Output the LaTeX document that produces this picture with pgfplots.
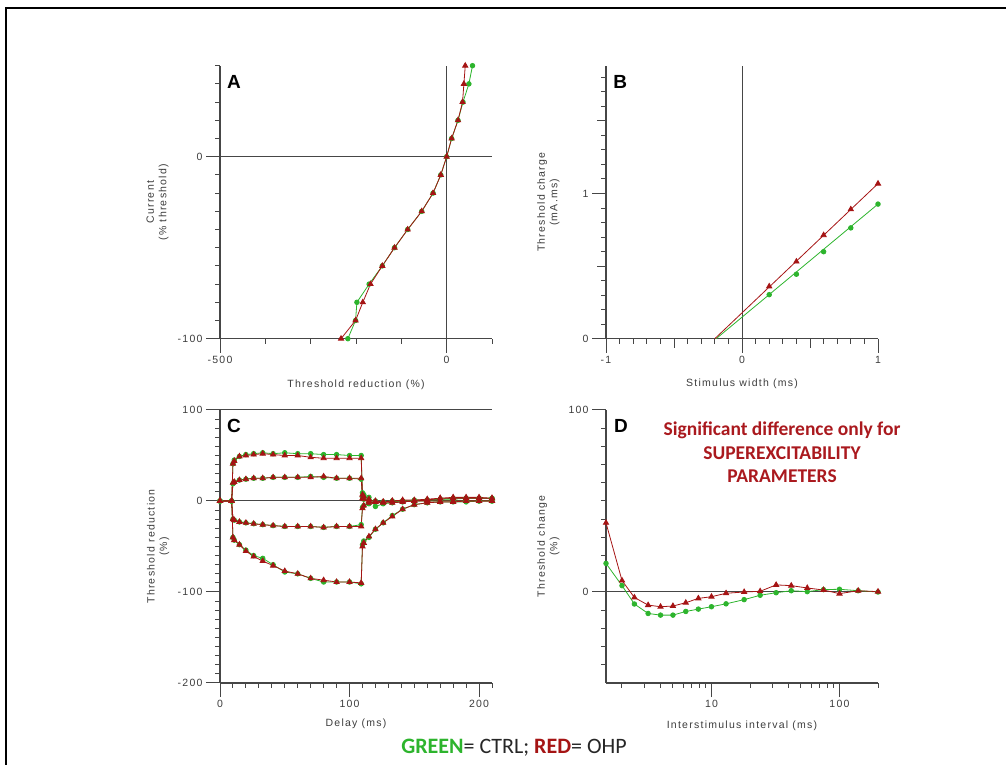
\documentclass[border=0pt]{standalone}
\usepackage{fontspec}
\setmainfont{Liberation Sans}
\newfontfamily\axfont[LetterSpace=12]{Liberation Sans}
\newfontfamily\calfont{Carlito}
\usepackage{pgfplots}
\pgfplotsset{compat=1.18}
\usepackage{pgfplotstable}

\definecolor{ctrl}{RGB}{45,180,45}
\definecolor{ohp}{RGB}{165,20,20}
\definecolor{axc}{RGB}{70,70,70}
\definecolor{txc}{RGB}{60,60,60}
\definecolor{sigred}{RGB}{170,25,30}

% threshold electrotonus (panel C): delay, then +40, +20, -20, -40 % curves
\pgfplotstableread{
x   gd40 gd20 gh20 gh40 rd40 rd20 rh20 rh40
0    0    0    0    0    0    0    0    0
9    0    0    0    0    0    0    0    0
10   41   19  -20  -40   41   20  -20  -40
11   45   21  -21  -43   44   21  -21  -43
15   49   23  -23  -48   49   23  -23  -48
20   51   24  -24  -54   50   24  -24  -55
26   52   25  -25  -60   51   25  -25  -61
33   53   25  -26  -63   52   25  -26  -66
41   52   26  -27  -70   51   26  -27  -71
50   53   26  -28  -78   50   26  -28  -77
60   52   26  -28  -80   50   26  -28  -80
70   52   27  -28  -85   48   26  -28  -85
80   51   26  -29  -89   47   27  -29  -87
90   51   25  -28  -89   47   25  -28  -89
100  50   25  -28  -89   47   25  -28  -89
109  50   24  -26  -91   47   25  -28  -90
110  9    4   -7   -48   7    3   -8   -50
111  7    2   -5   -44   5    2   -5   -46
115  4    1   -3   -40   2    0   -2   -39
120  -6   0   -1   -31  -1    0   -1   -31
126  -3  -1   -1   -24  -2   -1   -1   -24
133  -2   0   -1   -16  -2    0    0   -17
141  -1   0    0   -9   -1    1    0   -9
150  0    1    0   -4    0    1    0   -4
160  1    1    0   -2    1    2    0   -2
170  2    2    0   -1    3    3    0   -1
180  3    2    0   -1    4    3    0   -1
190  3    3    0   -1    4    3    0    0
200  3    3    0    0    4    3    0    0
210  3    3    0    0    3    3    0    0
}\tedata

% recovery cycle (panel D)
\pgfplotstableread{
x    g      r
1.5  15.7   38
2    3.5    6.3
2.5  -6.6   -3
3.2  -11.8  -7.2
4    -12.7  -8.1
5    -12.7  -7.7
6.3  -10.7  -5.9
7.9  -9.4   -3.5
10   -8.1   -2.6
13   -6.5   -0.7
18   -4.2   0
24   -1.8   0.4
32   -0.4   3.9
42   0.7    3.5
56   0.2    2.2
75   1.3    1.1
100  1.5    -0.9
140  0.7    0.7
200  0      0.2
}\rcdata

\tikzset{zline/.style={draw=axc, line width=1pt}}

\pgfplotsset{
  panel/.style={
    scale only axis, width=272pt, height=273pt, anchor=south west,
    axis lines=left, axis line style={-, draw=axc, line width=1.2pt},
    tick align=outside, major tick length=14pt, minor tick length=5pt,
    tick style={draw=axc, line width=1pt},
    /pgf/number format/assume math mode=true,
    tick label style={font=\axfont\fontsize{10.5}{12}\selectfont, text=txc},
    label style={font=\axfont\fontsize{10.5}{12.5}\selectfont, text=txc, align=center},
    clip=false,
  },
  ctrl/.style={color=ctrl, line width=0.8pt, mark=*, mark size=2.3pt,
    mark options={fill=ctrl, draw=ctrl}},
  ohp/.style={color=ohp, line width=0.8pt, mark=triangle*, mark size=3pt,
    mark options={fill=ohp, draw=ohp}},
}

\begin{document}
\begin{tikzpicture}[x=1pt,y=1pt]
\useasboundingbox (0,0) rectangle (1006,765);
\draw[line width=2pt, black] (6,0) -- (6,757) -- (1006,757);

% A: current-threshold
\begin{axis}[panel, at={(220pt,426.3pt)},
  xmin=-500, xmax=100, ymin=-100, ymax=50,
  xtick={-500,0}, minor xtick={-400,-300,-200,-100,100},
  ytick={-100,0}, minor ytick={-90,-80,...,50},
  xlabel={Threshold reduction (\%)},
  ylabel={Current\\(\% threshold)},
  xlabel style={at={(axis description cs:0.5,0)}, anchor=north, yshift=-38pt},
  ylabel style={at={(axis description cs:-0.176,0.5)}, anchor=south},
]
\draw[zline] (axis cs:-500,0) -- (axis cs:100,0);
\draw[zline] (axis cs:0,-100) -- (axis cs:0,50);
\addplot[ctrl] coordinates {(57,50) (49,40) (36,30) (25,20) (11,10) (0,0) (-13,-10) (-30,-20) (-55,-30) (-86,-40) (-115,-50) (-142,-60) (-171,-70) (-198,-80) (-201,-90) (-218,-100)};
\addplot[ohp] coordinates {(41,50) (38,40) (35,30) (25,20) (11,10) (0,0) (-13,-10) (-30,-20) (-55,-30) (-86,-40) (-115,-50) (-142,-60) (-168,-70) (-185,-80) (-201,-90) (-233,-100)};
\node[anchor=north west, inner sep=0, font=\bfseries\fontsize{19}{21}\selectfont] at (axis description cs:0.025,0.965) {A};
\end{axis}

% B: charge-duration
\begin{axis}[panel, at={(606pt,426.3pt)},
  xmin=-1, xmax=1, ymin=0, ymax=1.88,
  xtick={-1,0,1}, minor xtick={-0.9,-0.8,...,0.95},
  ytick={0,1}, minor ytick={0.1,0.2,...,1.85},
  extra x ticks={-0.5,0.5}, extra x tick labels={},
  extra x tick style={major tick length=9pt},
  extra y ticks={0.5,1.5}, extra y tick labels={},
  extra y tick style={major tick length=9pt},
  xlabel={Stimulus width (ms)},
  ylabel={Threshold charge\\(mA.ms)},
  xlabel style={at={(axis description cs:0.5,0)}, anchor=north, yshift=-37pt},
  ylabel style={at={(axis description cs:-0.158,0.5)}, anchor=south},
]
\draw[zline] (axis cs:0,0) -- (axis cs:0,1.88);
\addplot[ctrl, mark=none] coordinates {(-0.19,0) (1,0.927)};
\addplot[ohp, mark=none] coordinates {(-0.2,0) (1,1.068)};
\addplot[ctrl, only marks] coordinates {(0.2,0.303) (0.4,0.444) (0.6,0.599) (0.8,0.763) (1,0.927)};
\addplot[ohp, only marks] coordinates {(0.2,0.36) (0.4,0.531) (0.6,0.713) (0.8,0.891) (1,1.068)};
\node[anchor=north west, inner sep=0, font=\bfseries\fontsize{19}{21}\selectfont] at (axis description cs:0.026,0.965) {B};
\end{axis}

% C: threshold electrotonus
\begin{axis}[panel, at={(220pt,82pt)},
  xmin=0, xmax=210, ymin=-200, ymax=100,
  xtick={0,100,200}, minor xtick={10,20,...,210},
  ytick={-200,-100,0,100}, minor ytick={-190,-180,...,90},
  xlabel={Delay (ms)},
  ylabel={Threshold reduction\\(\%)},
  xlabel style={at={(axis description cs:0.5,0)}, anchor=north, yshift=-32pt},
  ylabel style={at={(axis description cs:-0.173,0.5)}, anchor=south},
]
\draw[zline] (axis cs:0,100) -- (axis cs:210,100);
\draw[zline] (axis cs:0,0) -- (axis cs:210,0);
\addplot[ctrl] table[x=x, y=gd40] {\tedata};
\addplot[ctrl] table[x=x, y=gd20] {\tedata};
\addplot[ctrl] table[x=x, y=gh20] {\tedata};
\addplot[ctrl] table[x=x, y=gh40] {\tedata};
\addplot[ohp] table[x=x, y=rd40] {\tedata};
\addplot[ohp] table[x=x, y=rd20] {\tedata};
\addplot[ohp] table[x=x, y=rh20] {\tedata};
\addplot[ohp] table[x=x, y=rh40] {\tedata};
\node[anchor=north west, inner sep=0, font=\bfseries\fontsize{19}{21}\selectfont] at (axis description cs:0.025,0.968) {C};
\end{axis}

% D: recovery cycle
\begin{axis}[panel, at={(606pt,82pt)}, xmode=log,
  xmin=1.5, xmax=200, ymin=-50, ymax=100,
  xtick={10,100}, xticklabels={10,100},
  minor xtick={2,3,4,5,6,7,8,9,20,30,40,50,60,70,80,90,200},
  ytick={0,100}, minor ytick={-40,-30,...,90},
  xlabel={Interstimulus interval (ms)},
  ylabel={Threshold change\\(\%)},
  xlabel style={at={(axis description cs:0.5,0)}, anchor=north, yshift=-34pt},
  ylabel style={at={(axis description cs:-0.158,0.5)}, anchor=south},
]
\draw[zline] (axis cs:1.5,0) -- (axis cs:200,0);
\addplot[ctrl] table[x=x, y=g] {\rcdata};
\addplot[ohp] table[x=x, y=r] {\rcdata};
\node[anchor=north west, inner sep=0, font=\bfseries\fontsize{19}{21}\selectfont] at (axis description cs:0.029,0.968) {D};
\end{axis}

\node[anchor=north, inner sep=0, align=center, text=sigred,
  font=\calfont\bfseries\fontsize{19.5}{23.5}\selectfont] at (782,343)
  {Significant difference only for\\SUPEREXCITABILITY\\PARAMETERS};

\node[inner sep=0, font=\calfont\fontsize{22}{26}\selectfont, text=black!85] at (514,17)
  {\textcolor{ctrl}{\bfseries GREEN}= CTRL; \textcolor{ohp}{\bfseries RED}= OHP};
\end{tikzpicture}
\end{document}
